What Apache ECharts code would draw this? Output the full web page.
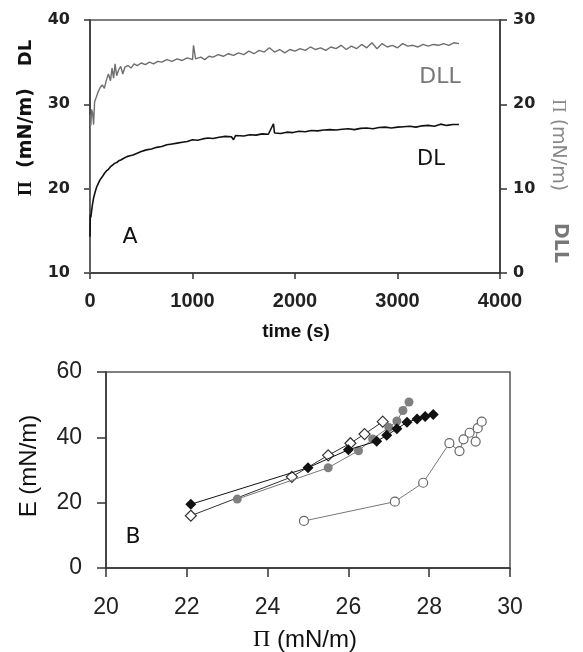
<!DOCTYPE html>
<html><head><meta charset="utf-8">
<script src="https://cdn.jsdelivr.net/npm/echarts@6/dist/echarts.min.js"></script>
<style>html,body{margin:0;padding:0;background:#fff}#c{width:583px;height:652px}</style>
</head><body><div id="c"></div>
<script>
// ---- Panel A: surface pressure vs time ----
const timeRange = [0, 4000, 1000];
const leftPiRange = [10, 40, 10];   // DL axis
const rightPiRange = [0, 30, 10];   // DLL axis
const dlSeries = [[0,14.3],[3,16.9],[8,16.6],[15,17.3],[25,18.2],[35,18.9],[50,19.6],[65,20.2],[80,20.6],[100,21.1],[120,21.4],[140,21.8],[160,22.1],[180,22.3],[200,22.6],[220,22.8],[240,23.0],[260,23.1],[280,23.3],[300,23.4],[330,23.6],[360,23.8],[390,23.9],[420,24.0],[460,24.2],[500,24.4],[550,24.6],[600,24.7],[650,24.9],[700,25.0],[750,25.2],[800,25.3],[850,25.4],[900,25.5],[950,25.6],[1000,25.8],[1050,25.75],[1100,25.9],[1150,26.0],[1200,25.95],[1260,26.1],[1320,26.2],[1380,26.15],[1400,25.8],[1420,26.3],[1500,26.25],[1560,26.4],[1620,26.35],[1680,26.5],[1740,26.45],[1790,27.7],[1800,26.6],[1860,26.55],[1920,26.7],[1980,26.65],[2040,26.8],[2100,26.75],[2160,26.9],[2220,26.85],[2280,26.95],[2340,27.0],[2400,26.95],[2460,27.05],[2520,27.1],[2580,27.0],[2640,27.15],[2700,27.2],[2760,27.1],[2820,27.25],[2880,27.3],[2940,27.2],[3000,27.3],[3060,27.35],[3120,27.4],[3180,27.3],[3240,27.45],[3300,27.5],[3360,27.4],[3420,27.65],[3480,27.5],[3540,27.6],[3600,27.6]];
const dllSeries = [[0,0],[3,18.8],[8,17.5],[15,19.4],[25,19.0],[35,17.6],[45,20.3],[60,20.8],[80,21.5],[100,22.0],[120,22.3],[140,21.9],[160,22.9],[180,23.6],[200,22.8],[215,24.3],[230,23.1],[245,24.8],[260,23.4],[280,24.1],[300,24.5],[320,23.6],[340,24.4],[370,24.6],[400,24.3],[430,24.8],[460,24.6],[500,24.9],[540,24.7],[580,25.0],[620,24.8],[660,25.1],[700,25.0],[750,25.3],[800,25.1],[850,25.4],[900,25.2],[950,25.5],[1000,25.3],[1010,27.0],[1030,25.4],[1080,25.6],[1120,25.3],[1160,25.7],[1200,25.6],[1250,25.9],[1300,25.7],[1350,26.0],[1400,25.8],[1450,26.1],[1500,25.9],[1550,26.3],[1600,26.0],[1650,26.4],[1700,26.2],[1750,26.7],[1800,26.2],[1850,26.5],[1900,26.1],[1950,26.5],[2000,26.3],[2050,26.6],[2100,26.4],[2150,26.8],[2200,26.5],[2250,26.7],[2300,26.4],[2350,26.8],[2400,26.6],[2450,27.0],[2500,26.5],[2550,26.9],[2600,26.6],[2650,27.1],[2700,26.7],[2750,27.3],[2800,26.6],[2850,27.2],[2900,26.8],[2950,27.0],[3000,26.7],[3050,27.2],[3100,26.9],[3150,27.0],[3200,26.8],[3250,27.1],[3300,26.9],[3350,27.1],[3400,27.0],[3450,27.2],[3500,27.0],[3550,27.3],[3600,27.2]];

// ---- Panel B: elasticity vs surface pressure ----
const piRange = [20, 30, 2];
const eRange = [0, 60, 20];
const blackDiamonds = [[22.1,19.5],[25.0,30.7],[26.0,36.2],[26.7,38.8],[26.95,40.6],[27.2,42.6],[27.45,44.6],[27.7,45.6],[27.9,46.4],[28.1,47.0]];
const openDiamonds = [[22.1,16.0],[24.6,27.9],[25.5,34.5],[26.05,38.2],[26.4,41.0],[26.85,44.8]];
const grayCircles = [[23.25,21.1],[25.5,30.7],[26.25,35.9],[26.6,39.5],[27.0,43.0],[27.2,45.0],[27.35,48.2],[27.5,50.8]];
const openCircles = [[24.9,14.4],[27.15,20.3],[27.85,26.1],[28.5,38.2],[28.75,35.8],[28.85,39.4],[29.0,41.4],[29.15,38.7],[29.2,42.8],[29.3,44.8]];

const FONT = 'DejaVu Sans';
const ARIAL = 'Liberation Sans';
const axisLine = {show:true, lineStyle:{color:'#333', width:1.5}};
function tick(len){ return {show:true, inside:false, length:len, lineStyle:{color:'#333', width:1.5}}; }
const plain = v => String(v);

const chart = echarts.init(document.getElementById('c'), null, {renderer:'canvas'});
const topYLabel = {fontFamily:FONT, fontWeight:'bold', fontSize:16, color:'#222', formatter:plain};
const topXLabel = {fontFamily:ARIAL, fontWeight:'bold', fontSize:20, color:'#222', formatter:plain};
const botLabel = {fontFamily:ARIAL, fontSize:23, color:'#222', formatter:plain};

function txt(x, y, text, size, opts){
  opts = opts || {};
  const fam = opts.family || FONT;
  return {type:'text', x:x, y:y, rotation:opts.rot||0, z:100,
    style:{text:text, x:0, y:0, align:'center', verticalAlign:'middle',
      font:(opts.bold?'bold ':'') + size + 'px "' + fam + '"', fill:opts.color||'#111',
      rich:{p:{fontFamily:'Liberation Serif', fontSize:size, fontWeight:opts.bold?'bold':'normal', fill:opts.color||'#111'},
            n:{fontFamily:fam, fontSize:size, fontWeight:opts.bold?'bold':'normal', fill:opts.color||'#111'}}}};
}

chart.setOption({
  animation:false,
  backgroundColor:'#fff',
  grid:[
    {left:90, top:20, width:410, height:253, show:true, borderColor:'#555', borderWidth:1.5},
    {left:106, top:372, width:404, height:196, show:true, borderColor:'#555', borderWidth:1.5}
  ],
  xAxis:[
    {gridIndex:0, type:'value', min:timeRange[0], max:timeRange[1], interval:timeRange[2],
     axisLine:axisLine, axisTick:tick(6), splitLine:{show:false}, axisLabel:Object.assign({margin:18}, topXLabel)},
    {gridIndex:1, type:'value', min:piRange[0], max:piRange[1], interval:piRange[2],
     axisLine:axisLine, axisTick:tick(9), splitLine:{show:false}, axisLabel:Object.assign({margin:28}, botLabel)}
  ],
  yAxis:[
    {gridIndex:0, type:'value', position:'left', min:leftPiRange[0], max:leftPiRange[1], interval:leftPiRange[2],
     axisLine:axisLine, axisTick:tick(6), splitLine:{show:false}, axisLabel:Object.assign({margin:20}, topYLabel)},
    {gridIndex:0, type:'value', position:'right', min:rightPiRange[0], max:rightPiRange[1], interval:rightPiRange[2],
     axisLine:axisLine, axisTick:tick(7), splitLine:{show:false}, axisLabel:Object.assign({margin:13}, topYLabel)},
    {gridIndex:1, type:'value', min:eRange[0], max:eRange[1], interval:eRange[2],
     axisLine:axisLine, axisTick:tick(9), splitLine:{show:false}, axisLabel:Object.assign({margin:24}, botLabel)}
  ],
  series:[
    {name:'DLL', type:'line', xAxisIndex:0, yAxisIndex:1, data:dllSeries, showSymbol:false,
     lineStyle:{color:'#6e6e6e', width:1.4}, z:2},
    {name:'DL', type:'line', xAxisIndex:0, yAxisIndex:0, data:dlSeries, showSymbol:false,
     lineStyle:{color:'#111', width:1.6}, z:3},
    {name:'open circles', type:'line', xAxisIndex:1, yAxisIndex:2, data:openCircles, symbol:'circle', symbolSize:9,
     lineStyle:{color:'#777', width:1}, itemStyle:{color:'#fff', borderColor:'#666', borderWidth:1.2}, z:3},
    {name:'open diamonds', type:'line', xAxisIndex:1, yAxisIndex:2, data:openDiamonds, symbol:'diamond', symbolSize:11,
     lineStyle:{color:'#333', width:1}, itemStyle:{color:'#fff', borderColor:'#333', borderWidth:1.2}, z:4},
    {name:'gray circles', type:'line', xAxisIndex:1, yAxisIndex:2, data:grayCircles, symbol:'circle', symbolSize:9,
     lineStyle:{color:'#777', width:1}, itemStyle:{color:'#808080'}, z:5},
    {name:'black diamonds', type:'line', xAxisIndex:1, yAxisIndex:2, data:blackDiamonds, symbol:'diamond', symbolSize:11,
     lineStyle:{color:'#111', width:1}, itemStyle:{color:'#111'}, z:6}
  ],
  graphic:[
    txt(26, 53, 'DL', 18, {rot:Math.PI/2, bold:true}),
    txt(26, 142, '{p|Π}{n|  (mN/m)}', 19, {rot:Math.PI/2, bold:true}),
    txt(558, 145, '{p|Π}{n| (mN/m)}', 19, {rot:-Math.PI/2, color:'#888'}),
    txt(560, 243, 'DLL', 19, {rot:-Math.PI/2, bold:true, color:'#777'}),
    txt(440, 77, 'DLL', 22, {color:'#777'}),
    txt(431, 160, 'DL', 21, {color:'#111'}),
    txt(130, 237, 'A', 22, {color:'#111'}),
    txt(296, 332, 'time (s)', 19, {bold:true, family:ARIAL}),
    txt(133, 537, 'B', 22, {color:'#111'}),
    txt(29, 466, 'E (mN/m)', 24, {rot:Math.PI/2, family:ARIAL}),
    txt(305, 640, '{p|Π}{n| (mN/m)}', 24, {family:ARIAL})
  ]
});
</script></body></html>
